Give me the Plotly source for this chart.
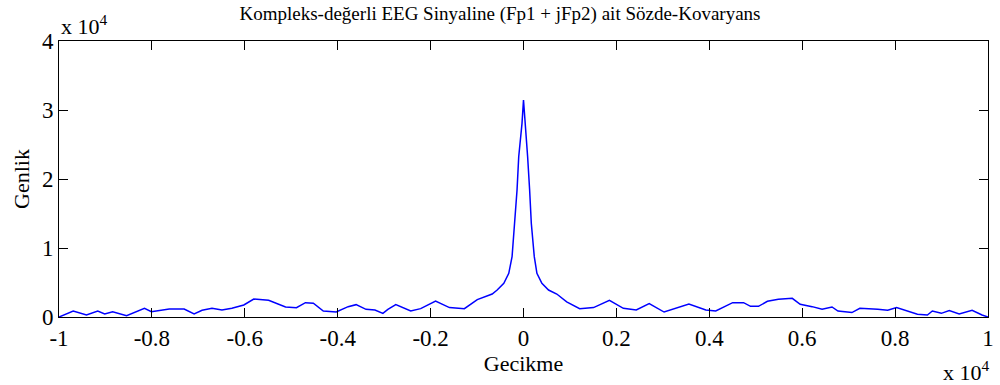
import plotly.graph_objects as go

lag = [-10000, -9694, -9408, -9166, -9016, -8845, -8545, -8160, -8011, -7626,
       -7305, -7091, -6920, -6706, -6492, -6278, -6021, -5807, -5487, -5123,
       -4888, -4695, -4524, -4310, -4032, -3775, -3604, -3390, -3198, -3027,
       -2920, -2749, -2428, -2214, -1893, -1594, -1273, -995,
       -674, -567, -424, -317, -246, -189, -139, -103, -32, 0,
       39, 89, 132, 168, 232, 289, 396, 539, 717, 930,
       1209, 1508, 1850, 2150, 2428,
       2706, 3027, 3283, 3561, 3925, 4139, 4503, 4738, 4888, 5059, 5251,
       5487, 5786, 5957, 6214, 6428, 6642, 6770, 7070, 7241, 7626, 7840,
       8032, 8246, 8481, 8695, 8802, 8995, 9166, 9380, 9658, 9872, 10000]
genlik = [0, 870, 300, 870, 430, 770, 190, 1260, 770, 1160,
          1160, 430, 970, 1260, 1010, 1260, 1740, 2610, 2420, 1450,
          1350, 2080, 1990, 870, 720, 1500, 1790, 1110, 1010, 530,
          1110, 1790, 870, 1210, 2320, 1360, 1210, 2520,
          3330, 3910, 4880, 6330, 8740, 13580, 18400, 23230, 28070, 31450,
          28070, 23230, 18400, 13580, 8740, 6330, 4880, 3910, 3330, 2200,
          1210, 1360, 2420, 1260, 1010,
          1940, 720, 1260, 1890, 1010, 870, 2080, 2080, 1550, 1550, 2270,
          2560, 2710, 1840, 1500, 1110, 1450, 870, 640, 1260, 1110, 970,
          1360, 870, 390, 290, 870, 530, 920, 430, 970, 290, 0]

x_tickvals = [-10000, -8000, -6000, -4000, -2000, 0, 2000, 4000, 6000, 8000, 10000]
x_ticktext = ["-1", "-0.8", "-0.6", "-0.4", "-0.2", "0", "0.2", "0.4", "0.6", "0.8", "1"]
y_tickvals = [0, 10000, 20000, 30000, 40000]
y_ticktext = ["0", "1", "2", "3", "4"]

title_text = "Kompleks-değerli EEG Sinyaline (Fp1 + jFp2) ait Sözde-Kovaryans"
font_family = "Liberation Serif"

fig = go.Figure()
fig.add_trace(go.Scatter(x=lag, y=genlik, mode="lines",
                         line=dict(color="#0000FF", width=1.5),
                         showlegend=False, hoverinfo="skip"))

axis_common = dict(showgrid=False, zeroline=False, showline=True, linecolor="black",
                   linewidth=1, mirror="ticks", ticks="inside", ticklen=9,
                   tickcolor="black", tickwidth=1,
                   tickfont=dict(family=font_family, size=23, color="black"))

fig.update_xaxes(range=[-10000, 10000], tickvals=x_tickvals, ticktext=x_ticktext,
                 title=dict(text="Gecikme", font=dict(family=font_family, size=22, color="black"),
                            standoff=4),
                 **axis_common)
fig.update_yaxes(range=[0, 40000], tickvals=y_tickvals, ticktext=y_ticktext,
                 title=dict(text="Genlik", font=dict(family=font_family, size=22, color="black"),
                            standoff=6),
                 **axis_common)

fig.update_layout(
    width=1000, height=385,
    margin=dict(l=59, r=6, t=41, b=68),
    paper_bgcolor="white", plot_bgcolor="white",
    title=dict(text=title_text, x=0.5, xanchor="center", y=1 - 13 / 385, yanchor="middle",
               font=dict(family=font_family, size=19, color="black")),
    annotations=[
        dict(text="x 10<sup>4</sup>", xref="paper", yref="paper", x=0, y=1,
             xanchor="left", yanchor="bottom", showarrow=False, yshift=0,
             font=dict(family=font_family, size=22, color="black")),
        dict(text="x 10<sup>4</sup>", xref="paper", yref="paper", x=1, y=0,
             xanchor="right", yanchor="top", showarrow=False, yshift=-38, xshift=4,
             font=dict(family=font_family, size=22, color="black")),
    ],
)

fig.write_html("out.html")
